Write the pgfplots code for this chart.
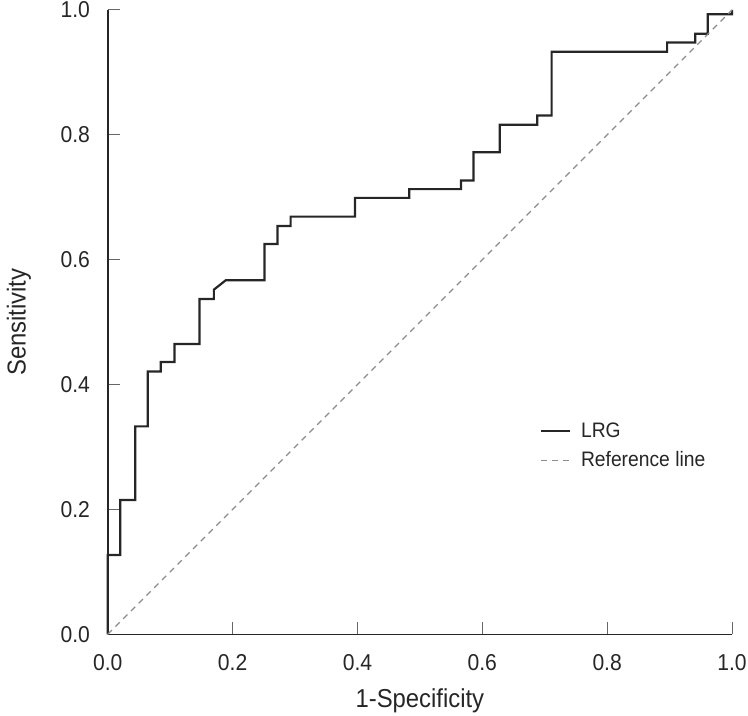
\documentclass[border=0pt]{standalone}
\usepackage{fontspec}
\setmainfont{Liberation Sans}[FakeStretch=0.92]
\usepackage{pgfplots}
\pgfplotsset{compat=1.18}
\begin{document}
\fontsize{23bp}{27bp}\selectfont
\begin{tikzpicture}
  \begin{axis}[
    scale only axis,
    width=626bp, height=626bp,
    xmin=0, xmax=1, ymin=0, ymax=1,
    axis lines=left,
    axis line style={-, line width=1.6bp, color=black!85},
    tick align=inside,
    major tick length=12bp,
    tick style={line width=1bp, color=black!60},
    xtick={0,0.2,...,1.0}, ytick={0,0.2,...,1.0},
    /pgf/number format/assume math mode=true,
    /pgf/number format/fixed, /pgf/number format/fixed zerofill,
    /pgf/number format/precision=1,
    ticklabel style={font=\fontsize{23bp}{27bp}\selectfont, color=black!85},
    xticklabel style={yshift=-12bp},
    yticklabel style={xshift=-10bp},
    xlabel={1-Specificity}, ylabel={Sensitivity},
    label style={font=\fontsize{26bp}{30bp}\selectfont, color=black!85},
    xlabel style={at={(axis description cs:0.5,-0.138)}, anchor=south},
    ylabel style={at={(axis description cs:-0.174,0.5)}, anchor=north},
    clip=false,
    legend style={draw=none, fill=none, at={(0.692,0.339)}, anchor=north west,
      font=\fontsize{21bp}{25bp}\selectfont, text=black!85,
      inner sep=0pt, row sep=12bp, column sep=10bp,
      nodes={inner sep=0pt, text height=15bp, text depth=2bp},
      cells={anchor=west}},
    legend cell align=left,
    legend image code/.code={\draw[#1] (0bp,0bp) -- (29bp,0bp);},
  ]
  \coordinate (o) at (axis cs:0,0);
  \addplot[line width=2.2bp, color=black!85, line join=miter] coordinates {
    (0,0) (0,0.127) (0.020,0.127) (0.020,0.215) (0.044,0.215) (0.044,0.333)
    (0.064,0.333) (0.064,0.421) (0.085,0.421) (0.085,0.436) (0.107,0.436)
    (0.107,0.465) (0.147,0.465) (0.147,0.537) (0.170,0.537) (0.170,0.552)
    (0.189,0.567) (0.251,0.567) (0.251,0.625) (0.272,0.625) (0.272,0.654)
    (0.293,0.654) (0.293,0.669) (0.396,0.669) (0.396,0.699) (0.483,0.699)
    (0.483,0.713) (0.566,0.713) (0.566,0.727) (0.586,0.727) (0.586,0.772)
    (0.628,0.772) (0.628,0.816) (0.688,0.816) (0.688,0.831) (0.711,0.831)
    (0.711,0.933) (0.896,0.933) (0.896,0.948) (0.941,0.948) (0.941,0.962)
    (0.961,0.962) (0.961,0.993) (1.0,0.993) (1.0,1.0)
  };
  \addlegendentry{LRG}
  \addplot[line width=1.2bp, color=black!45, dash pattern=on 6bp off 5bp] coordinates {
    (0,0) (1,1)
  };
  \addlegendentry{Reference line}
  \end{axis}
  \pgfresetboundingbox
  \path (o) ++(-108bp,-81bp) rectangle ++(750bp,717bp);
\end{tikzpicture}
\end{document}
